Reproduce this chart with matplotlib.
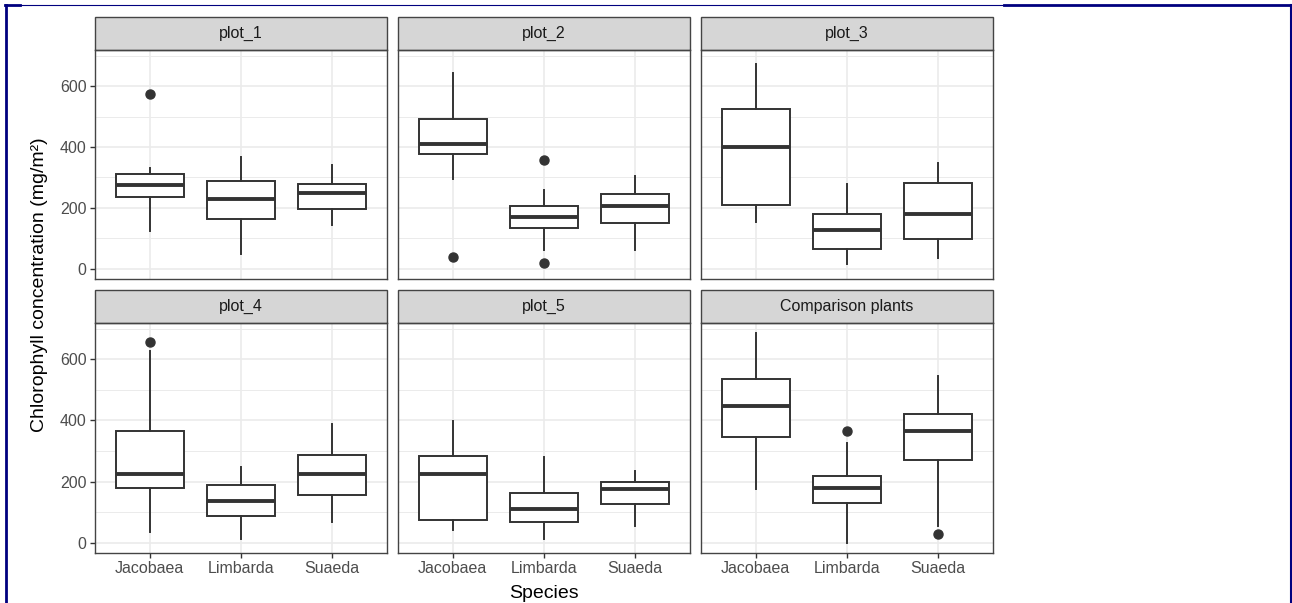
import numpy as np
import matplotlib
matplotlib.use("Agg")
import matplotlib.pyplot as plt
from matplotlib.patches import Rectangle
from matplotlib.lines import Line2D

plt.rcParams['font.family'] = ['Liberation Sans', 'DejaVu Sans']

# --- data ---
panels = ['plot_1', 'plot_2', 'plot_3', 'plot_4', 'plot_5', 'Comparison plants']
species = ['Jacobaea', 'Limbarda', 'Suaeda']

# one row per panel, one value per species
whislo = [[125, 48, 143], [295, 60, 60], [155, 15, 34],
          [36, 11, 67], [41, 11, 54], [175, 0, 54]]
q1 = [[237, 164, 197], [377, 134, 149], [210, 65, 96],
      [179, 86, 157], [73, 66, 126], [345, 129, 269]]
med = [[274, 230, 249], [409, 170, 207], [399, 128, 180],
       [225, 136, 224], [226, 110, 175], [446, 179, 364]]
q3 = [[312, 288, 278], [493, 207, 246], [524, 180, 281],
      [366, 190, 287], [282, 161, 197], [535, 218, 422]]
whishi = [[330, 368, 342], [642, 259, 305], [672, 279, 349],
          [628, 248, 388], [399, 279, 235], [685, 325, 546]]
fliers = [[[573], [], []], [[39], [356, 20], []], [[], [], []],
          [[656], [], []], [[], [], []], [[], [364], [27]]]

ylabel = 'Chlorophyll concentration (mg/m²)'
xlabel = 'Species'

# --- layout in pixels of the 1292x603 reference ---
W, H = 1292, 603
col_x = [95, 398, 701]
pw = 292
rows = [(50, 279), (323, 553)]
strip_h = 33

fig = plt.figure(figsize=(W / 100, H / 100), dpi=100)

dark = '#333333'
grid = '#EBEBEB'
tickc = '#4D4D4D'

for i, name in enumerate(panels):
    r, c = divmod(i, 3)
    top, bot = rows[r]
    ax = fig.add_axes([col_x[c] / W, 1 - bot / H, pw / W, (bot - top) / H])
    stats = [dict(med=med[i][j], q1=q1[i][j], q3=q3[i][j], whislo=whislo[i][j],
                  whishi=whishi[i][j], fliers=fliers[i][j], label=species[j])
             for j in range(3)]
    ax.bxp(stats, positions=[1, 2, 3], widths=0.75, showcaps=False, patch_artist=True,
           boxprops=dict(facecolor='white', edgecolor=dark, linewidth=1.4),
           whiskerprops=dict(color=dark, linewidth=1.4),
           medianprops=dict(color=dark, linewidth=2.8, solid_capstyle='butt'),
           flierprops=dict(marker='o', markerfacecolor=dark, markeredgecolor=dark,
                           markersize=6.5))
    ax.set_xlim(0.4, 3.6)
    ax.set_ylim(-34, 719)
    ax.set_yticks([0, 200, 400, 600])
    ax.set_yticks([100, 300, 500, 700], minor=True)
    ax.set_xticks([1, 2, 3])
    ax.set_xticklabels(species)
    ax.set_axisbelow(True)
    ax.grid(True, which='major', color=grid, lw=1.2)
    ax.grid(True, which='minor', axis='y', color=grid, lw=0.7)
    for s in ax.spines.values():
        s.set_color('#444444')
        s.set_linewidth(1.0)
    ax.tick_params(which='minor', length=0)
    ax.tick_params(which='major', length=3.5, width=1.0, color=dark,
                   labelsize=11.5, labelcolor=tickc, pad=2.5)
    if c != 0:
        ax.tick_params(axis='y', left=False, labelleft=False)
    if r == 0:
        ax.tick_params(axis='x', bottom=False, labelbottom=False)
    # facet strip
    sh = strip_h / (bot - top)
    ax.add_patch(Rectangle((0, 1), 1, sh, transform=ax.transAxes, clip_on=False,
                           facecolor='#D6D6D6', edgecolor='#444444', linewidth=1.0))
    ax.text(0.5, 1 + sh / 2, name, transform=ax.transAxes, ha='center', va='center',
            fontsize=11.5, color='#1A1A1A')

fig.text(40 / W, 1 - 285 / H, ylabel, rotation=90, ha='center', va='center', fontsize=14)
fig.text((col_x[1] + pw / 2) / W, 1 - 593 / H, xlabel, ha='center', va='center', fontsize=14)

# navy frame around the screenshot
navy = '#00007F'
def fline(x0, y0, x1, y1, lw):
    fig.add_artist(Line2D([x0 / W, x1 / W], [1 - y0 / H, 1 - y1 / H], color=navy, lw=lw))
fline(6, 5, 6, 603, 2)
fline(1291, 5, 1291, 603, 1.5)
fline(5, 5, 20, 5, 2)
fline(20, 5, 1004, 5, 0.8)
fline(1004, 5, 1292, 5, 2)

plt.savefig('out.png', dpi=100)
